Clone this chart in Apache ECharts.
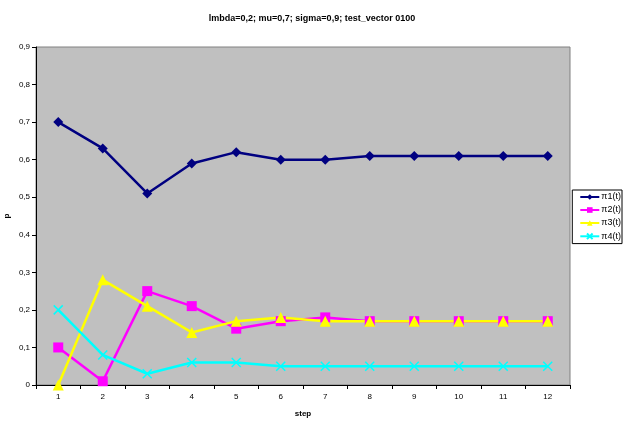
<!DOCTYPE html>
<html>
<head>
<meta charset="utf-8">
<script src="https://cdn.jsdelivr.net/npm/echarts@6/dist/echarts.min.js"></script>
<style>
  html, body { margin: 0; padding: 0; background: #fff; }
  #chart { width: 624px; height: 421px; }
</style>
</head>
<body>
<div id="chart"></div>
<script>
// State probabilities per step
const steps = ['1', '2', '3', '4', '5', '6', '7', '8', '9', '10', '11', '12'];
const pi1 = [0.70, 0.63, 0.51, 0.59, 0.62, 0.60, 0.60, 0.61, 0.61, 0.61, 0.61, 0.61];
const pi2 = [0.10, 0.01, 0.25, 0.21, 0.15, 0.17, 0.18, 0.17, 0.17, 0.17, 0.17, 0.17];
const pi3 = [0.00, 0.28, 0.21, 0.14, 0.17, 0.18, 0.17, 0.17, 0.17, 0.17, 0.17, 0.17];
const pi4 = [0.20, 0.08, 0.03, 0.06, 0.06, 0.05, 0.05, 0.05, 0.05, 0.05, 0.05, 0.05];
const seriesNames = ['π1(t)', 'π2(t)', 'π3(t)', 'π4(t)'];

const FONT = 'Liberation Sans, Arial, sans-serif';
const crossPath = 'path://M0,0 L10,10 M10,0 L0,10';

function makeSeries(name, data, color, symbol, size) {
  return {
    name: name,
    type: 'line',
    data: data,
    symbol: symbol,
    symbolSize: size,
    showAllSymbol: true,
    lineStyle: { color: color, width: 2.5 },
    itemStyle: symbol === crossPath
      ? { color: 'none', borderColor: color, borderWidth: 1.5 }
      : { color: color, borderWidth: 0 },
    emphasis: { disabled: true },
    animation: false
  };
}

const chart = echarts.init(document.getElementById('chart'), null, { renderer: 'canvas' });
chart.setOption({
  backgroundColor: '#ffffff',
  animation: false,
  title: {
    text: 'lmbda=0,2; mu=0,7; sigma=0,9; test_vector 0100',
    left: 'center',
    top: 9,
    textStyle: { fontFamily: FONT, fontSize: 9, fontWeight: 'bold', color: '#000' }
  },
  grid: {
    left: 36, right: 54, top: 47, bottom: 36,
    outerBoundsMode: 'none',
    containLabel: false,
    show: true,
    backgroundColor: '#c0c0c0',
    borderColor: '#808080',
    borderWidth: 1
  },
  legend: {
    orient: 'vertical',
    right: 2,
    top: 190,
    data: seriesNames,
    itemWidth: 19,
    itemHeight: 7,
    itemGap: 3,
    padding: [2, 1, 2, 7],
    backgroundColor: '#ffffff',
    borderColor: '#000000',
    borderWidth: 1,
    borderRadius: 0,
    textStyle: { fontFamily: FONT, fontSize: 9, lineHeight: 10, color: '#000', padding: [0, 0, 0, -3] }
  },
  xAxis: {
    type: 'category',
    data: steps,
    boundaryGap: true,
    name: 'step',
    nameLocation: 'middle',
    nameGap: 25,
    nameMoveOverlap: false,
    nameTextStyle: { fontFamily: FONT, fontSize: 8, fontWeight: 'bold', color: '#000' },
    axisLine: { lineStyle: { color: '#000', width: 1 } },
    axisTick: { show: true, inside: false, length: 4, lineStyle: { color: '#000' } },
    axisLabel: { fontFamily: FONT, fontSize: 8, color: '#000', margin: 8 },
    splitLine: { show: false }
  },
  yAxis: {
    type: 'value',
    min: 0,
    max: 0.9,
    interval: 0.1,
    name: 'p',
    nameLocation: 'middle',
    nameGap: 25,
    nameMoveOverlap: false,
    nameRotate: 90,
    nameTextStyle: { fontFamily: FONT, fontSize: 8, fontWeight: 'bold', color: '#000' },
    axisLine: { show: true, lineStyle: { color: '#000', width: 1 } },
    axisTick: { show: true, inside: false, length: 4, lineStyle: { color: '#000' } },
    axisLabel: {
      fontFamily: FONT, fontSize: 8, color: '#000', margin: 6,
      formatter: function (v) { return v === 0 ? '0' : v.toFixed(1).replace('.', ','); }
    },
    splitLine: { show: false }
  },
  series: [
    makeSeries(seriesNames[0], pi1, '#000080', 'diamond', 10),
    makeSeries(seriesNames[1], pi2, '#ff00ff', 'rect', 10),
    makeSeries(seriesNames[2], pi3, '#ffff00', 'triangle', 11),
    makeSeries(seriesNames[3], pi4, '#00ffff', crossPath, 9)
  ]
});
</script>
</body>
</html>
